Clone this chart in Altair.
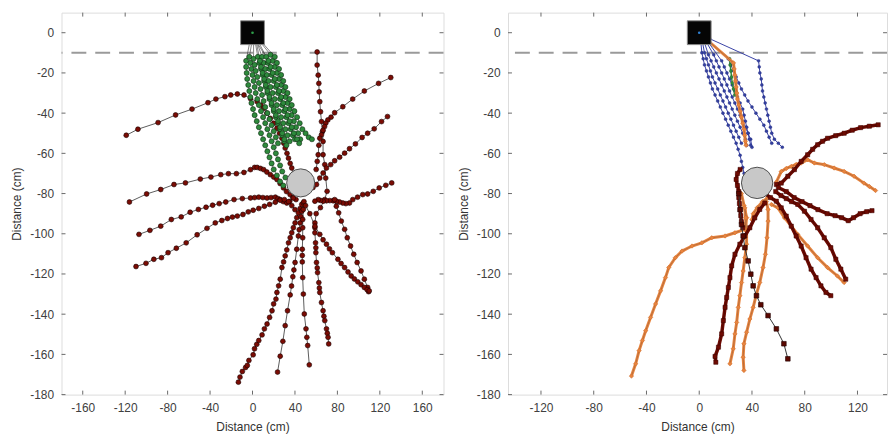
import altair as alt
import pandas as pd

# ---------------- data (cm) ----------------
Y_TICKS = [0, -20, -40, -60, -80, -100, -120, -140, -160, -180]
X_TICKS_LEFT = [-160, -120, -80, -40, 0, 40, 80, 120, 160]
X_TICKS_RIGHT = [-120, -80, -40, 0, 40, 80, 120]
X_DOMAIN_LEFT = [-180, 180]
X_DOMAIN_RIGHT = [-145, 142.4]
Y_DOMAIN = [-180, 10]
BARRIER_Y = [-10]
OBJECT_LEFT = [(45.4, -74.7)]
OBJECT_RIGHT = [(43.9, -74.7)]
SOURCE = [(0, 0)]

# left panel: dark red tracks
L1 = [(-119,-51),(-108,-48),(-89,-44.7),(-72.5,-40.9),(-57,-38),(-42,-34.8),(-34.5,-33),(-26,-31.8),(-20.5,-31),(-14.3,-30.5),(-8,-31),(-2,-32.7),(4.4,-34.3),(8,-36),(10.5,-37.6),(13.5,-40),(16.8,-42.6),(20,-45),(23,-47.5),(25.5,-50),(27.7,-52.5),(29.5,-55),(30.8,-57.4),(32.5,-60),(33.9,-62.4),(35.5,-65),(37,-67.3),(39,-70),(41,-73)]
L2 = [(-116,-84.2),(-99.8,-80.2),(-86.5,-78),(-74,-75.5),(-63.2,-74.7),(-49.2,-72.8),(-39.2,-71.8),(-29.9,-70.6),(-22.7,-70.1),(-15.2,-70.1),(-8.1,-69.5),(-1.9,-68.1),(2,-67),(4.4,-67),(7.5,-67.5),(10.5,-68.1),(13.5,-69.3),(16.8,-70.6),(20,-71.8),(23,-73),(26,-75),(29.2,-77.2),(32,-79),(35.4,-80.5),(38,-82),(41,-83)]
L3 = [(-107,-100.3),(-96.7,-98.3),(-86.5,-96.2),(-76.5,-92.9),(-67.2,-91.6),(-58.8,-89.3),(-51,-87.9),(-43.8,-86.8),(-37.6,-85.8),(-31.4,-85),(-25.2,-84.2),(-17.4,-83),(-9.6,-82.5),(-1.9,-82.2),(2,-82),(5.9,-81.8),(9.8,-82),(13.7,-82.2),(17.5,-82),(21.5,-81.8),(24,-82.5),(26.1,-83),(29,-84),(32.3,-84.7),(35,-84),(38.5,-82.2)]
L4 = [(-109.8,-116.3),(-100.4,-114.7),(-93,-112.7),(-85.8,-111.9),(-79.6,-109.4),(-71.8,-107.2),(-62.5,-104.5),(-52.2,-100.5),(-42.9,-97.3),(-35.1,-94.6),(-28.9,-93.4),(-23.6,-92.4),(-18.9,-91.7),(-14.3,-91.2),(-9,-90.4),(-4,-89.1),(0.6,-88.3),(5.9,-87.4),(11.2,-86.3),(16.1,-85.4),(21.5,-84.3),(26.1,-83.3),(30,-83),(34,-84),(37,-86),(40,-88)]
L5 = [(-13.3,-173.8),(-11.8,-171.3),(-9.6,-168.5),(-6.5,-166.5),(-4.9,-165.5),(-3.4,-163),(0.6,-160.2),(1.9,-157.2),(4,-155),(5.9,-153.1),(9,-150.3),(11.2,-147.3),(13.7,-144.9),(16.1,-141.6),(18.4,-138.3),(19.9,-134.9),(22.1,-132.5),(23,-129.2),(24.6,-125.9),(26.1,-122.6),(27.7,-116.8),(29.3,-114),(30.8,-111),(32.3,-108),(33.9,-104.5),(35.5,-102),(37,-99.5),(38.5,-97),(40.1,-94.6),(41.7,-92),(43.2,-89.6),(44.8,-87.5),(46.4,-85.4)]
L6 = [(23.6,-168.8),(26.1,-160.9),(28.6,-153.5),(30.8,-145.7),(33,-138.3),(35.5,-130.4),(36.8,-126),(38,-121.4),(39,-118),(40.1,-114.3),(41.7,-107.7),(43.2,-101.1),(44,-98),(44.8,-94.6),(45.6,-91.5),(46.4,-88.8),(47.9,-84.6)]
L7 = [(53.5,-165.2),(52,-155.6),(51.2,-151.5),(50.4,-147.3),(48.8,-139.9),(47.9,-130),(47.3,-121.8),(46.9,-114),(46.9,-110.8),(46.9,-107.7),(47.3,-102),(47.3,-97),(47.3,-92.9),(47.9,-87.9),(48.5,-84)]
L8 = [(60.9,-9.6),(60.9,-16.1),(61.9,-21.1),(62.5,-25.2),(62.8,-29.4),(63.4,-34.3),(64.1,-39.3),(65,-44.2),(65.9,-49.2),(66.5,-54.1),(66.5,-60.7),(68.1,-65.6),(69,-72.3),(70.3,-78.9),(68,-83),(64,-87),(60,-90),(58.8,-94.6),(58.8,-97),(58.8,-99.5),(59.4,-104.5),(59.7,-107),(59.7,-109.4),(60.3,-114.3),(61,-117),(61.3,-119.3),(62.5,-124.3),(63,-127),(63.4,-129.2),(65,-134.2),(66.5,-138.3),(67.3,-141),(68.1,-143.2),(69.7,-147.3),(70.5,-149.5),(71.2,-151.5),(71.8,-154.8)]
L9 = [(130.3,-22.3),(118.8,-25.2),(105.4,-29),(94.4,-33),(85.1,-36.8),(77.4,-39.8),(74,-42),(71,-43.4),(69,-45),(67.9,-46.7),(66.5,-48.5),(65,-50.8),(63.4,-52.5),(62.5,-56),(61.9,-60.7),(61,-64),(60,-68)]
L10 = [(127.2,-41.7),(121.6,-44.2),(114.7,-47.8),(108.5,-50),(103.3,-52.1),(97,-55.3),(91.4,-57.7),(86.8,-59.9),(82.1,-61.9),(77.4,-63.7),(73.7,-65.6),(69.7,-67.3),(66.5,-69.8),(63.4,-72.3),(60.3,-75.5),(57,-77)]
L11 = [(131.2,-74.7),(125.6,-75.9),(119.4,-77.2),(113.8,-78.9),(108.5,-80.2),(103.9,-80.5),(99,-81.8),(94.5,-83),(91.4,-84.7),(88,-85),(85.1,-84.7),(82,-84.2),(79,-83.8),(76,-83.6),(72.8,-83.5),(69.7,-83.6),(66.6,-83.8),(64,-83.4),(61.9,-83),(58.8,-83.8)]
L12 = [(77.4,-83),(79,-86.3),(81.2,-89.6),(83.7,-93.7),(86.8,-97.8),(89.3,-102),(92.4,-106.1),(95.4,-110.2),(98.6,-114.3),(102.3,-118.5),(105.4,-122.6),(108.5,-126.7),(109.4,-128.8)]
L13 = [(50,-86),(54,-90),(58.8,-96.2),(63.4,-100.3),(66.5,-103),(69.7,-105.2),(72.5,-107.5),(75.3,-109.4),(80.5,-112.7),(83.5,-114.8),(86.8,-116.8),(90,-119),(93,-121),(96,-122.5),(99.2,-123.9),(102.3,-125.3),(105.4,-126.7),(108,-127.8),(110,-128.4)]

# left panel: green tracks (start inside the source box)
G1 = [(-2,-3),(-6,-14),(-6,-17),(-5.5,-20),(-5,-23),(-4,-26),(-3,-29),(-2,-32),(-1,-35),(0.5,-38),(2,-41),(4,-44),(6,-47),(8,-50),(10,-53),(12,-56),(14,-59),(16,-62),(18,-65),(20,-68),(23,-71),(26,-74),(29,-76)]
G2 = [(0,-3),(-3,-12),(-2,-15),(-1,-18),(0,-21),(1,-24),(2,-27),(3,-30),(4.5,-33),(6,-36),(8,-39),(10,-42),(12,-45),(14,-48),(16,-51),(18,-54),(20,-57),(22,-60),(24,-63),(26,-66),(28,-69),(31,-72)]
G3 = [(1,-3),(1,-13),(2,-16),(3,-19),(4.5,-22),(6,-25),(7.5,-28),(9,-31),(10.5,-34),(12,-37),(14,-40),(16,-43),(18,-46),(20,-49),(22,-52),(24,-55)]
G4 = [(2,-3),(5,-12),(6.5,-15),(8,-18),(9.5,-21),(11,-24),(12.5,-27),(14,-30),(16,-33),(18,-36),(20,-39),(22,-42),(24,-45),(26,-48),(28,-51),(30,-54)]
G5 = [(3,-3),(9,-12),(10.5,-15),(12,-18),(13.5,-21),(15,-24),(17,-27),(19,-30),(21,-33),(23,-36),(25,-39),(27,-42),(29,-45),(31,-48),(33,-51),(35,-54)]
G6 = [(4,-3),(13,-12),(14.5,-15),(16,-18),(18,-21),(20,-24),(22,-27),(24,-30),(26,-33),(28,-36),(30,-39),(32,-42),(34,-45),(36,-48),(38,-51),(40,-53)]
G7 = [(5,-3),(17,-11),(19,-14),(21,-17),(23,-20),(25,-23),(27,-26),(29,-29),(31,-32),(33,-35),(35,-38),(37,-41),(39,-44),(41,-47),(43,-50),(45,-53)]
G8 = [(6,-3),(21,-12),(23,-15),(25,-18),(27,-21),(29,-24),(31,-27),(33,-30),(35,-33),(37,-36),(39.5,-39),(42,-42),(44.5,-45),(47,-48),(50,-50),(53,-52),(56,-53)]
G9 = [(3,-3),(7,-14),(8,-17),(9.5,-20),(11,-23),(12.5,-26),(14,-29),(16,-32),(18,-35),(20,-38),(22,-41),(24,-44),(26,-47),(28,-50),(30,-53),(32,-56)]
G10 = [(2,-3),(15,-14),(17,-17),(19,-20),(21,-23),(23,-26),(25,-29),(27,-32),(29,-35),(31,-38),(33,-41),(35,-44),(37,-47),(39,-50),(42,-53),(44,-55)]

# right panel: blue tracks
B1 = [(1,-3),(2,-10),(3,-13),(4,-16),(5.5,-19),(7,-22),(8.5,-25),(10,-28),(12,-31),(14,-34),(16,-37),(18,-40),(20,-43),(22,-46),(24,-49),(26,-52),(28,-55),(29.5,-58),(31,-61),(32,-64),(33,-67),(34,-70)]
B2 = [(2,-3),(4,-10),(5.5,-13),(7,-16),(8.5,-19),(10,-22),(12,-25),(14,-28),(16,-31),(18,-34),(20,-37),(22,-40),(24,-43),(26,-46),(28,-49),(30,-52),(32,-55)]
B3 = [(3,-3),(7,-11),(9,-14),(11,-17),(13,-20),(15,-23),(17,-26),(19,-29),(21,-32),(23,-35),(25,-38),(27,-41),(29,-44),(31,-47),(33,-50),(35,-53),(36,-56)]
B4 = [(4,-3),(11,-11),(13,-14),(15,-17),(17,-20),(19,-23),(21,-26),(23,-29),(25,-32),(27,-35),(29,-38),(31,-41),(33,-44),(35,-47),(37,-50),(39,-53),(40,-57)]
B5 = [(5,-3),(17,-14),(19,-17),(21,-20),(23,-23),(25,-26),(27,-29),(29,-32),(31,-35),(33,-38),(34,-41),(35,-44),(36,-47),(37,-50),(38,-53),(39,-56)]
B6 = [(8,-3),(45,-14),(45.5,-17),(46,-20),(47,-23),(47.5,-26),(48,-29),(49,-32),(50,-35),(51,-38),(52,-41),(53,-44),(54,-47),(55,-50),(57,-53),(60,-55),(63,-57)]
B7 = [(6,-3),(22,-13),(24,-16),(26,-19),(28,-22),(30,-25),(32,-28),(34.5,-31),(37,-34),(40,-37),(43,-40),(46,-43),(49,-46),(51,-49),(53,-52),(55,-55)]
GR1 = [(4,-3),(23,-13),(23.5,-16),(24,-19),(24.5,-22),(25,-25),(26,-28),(27,-31)]

# right panel: orange tracks
O0 = [(5,-3),(26,-15),(26.5,-18),(27,-21),(27.5,-24),(28,-27),(28.5,-30),(29,-33),(30,-36),(31,-39),(32,-42),(33,-45),(34,-48),(34.5,-51),(35,-54),(35.5,-56)]
O1 = [(58.5,-74.3),(62.2,-69),(66,-67.5),(69.8,-66.5),(73.5,-65.5),(77.3,-64.8),(82.2,-63.2),(87.3,-64.8),(94.8,-65.6),(102.3,-67.3),(109.9,-69),(117.4,-71.4),(124.9,-74.8),(129,-76.5),(133.7,-78.5)]
O2 = [(32,-80),(34,-86),(36,-92),(34.6,-97.8),(27.1,-99.5),(19.6,-101.1),(9.5,-102),(2,-104.5),(-5.5,-106.1),(-13,-108.6),(-18.1,-111.9),(-23.1,-116.8),(-25.6,-121.8),(-29.3,-128.4),(-33.1,-134.9),(-36.9,-141.6),(-40.6,-148.2),(-43.1,-153.1),(-45.6,-158.1),(-48.2,-164.7),(-51.4,-170.8)]
O3 = [(34.6,-87.1),(35.1,-92.1),(35.9,-98.7),(35.9,-105.2),(34.6,-111.9),(33.3,-118.5),(32.1,-124.3),(30.8,-130.8),(29.6,-136.6),(28.4,-144.1),(27.1,-149.8),(25.8,-157.2),(23.3,-164.7)]
O4 = [(50.9,-84),(52.2,-87.9),(52.2,-93.7),(51.4,-102),(50.2,-110.2),(48.4,-116.8),(45.9,-124.3),(43.4,-130),(40.9,-136.6),(38.4,-142.4),(35.9,-149),(33.9,-154.7),(33.3,-161.4),(33.9,-168)]
O5 = [(54.7,-85.4),(59.7,-87.1),(64.7,-92.1),(69.8,-96.2),(74.7,-100.3),(82.2,-106.1),(89.8,-111.9),(97.3,-116.8),(104.8,-121),(109.9,-124.3)]
O6 = [(52,-82),(48,-84),(44,-87),(41,-90),(40,-93)]

# right panel: dark red tracks
R1 = [(58.5,-75.5),(62.2,-74.8),(67.2,-71.4),(72.2,-68.1),(77.3,-64),(82.2,-60.7),(86,-58),(89.8,-55.7),(93.5,-54),(97.3,-52.5),(103.5,-51.2),(109.9,-50),(116,-48.5),(122.4,-47.2),(129,-46.5),(135.7,-45.8)]
R2 = [(60,-77),(66,-79),(72,-82),(78,-84),(84,-86),(90,-88),(97,-90),(103,-91),(108,-92),(113,-93.5),(117,-92),(122,-90),(127,-89),(131,-88.5)]
R3 = [(58,-79),(62,-81),(66,-82.5),(70,-84),(74.7,-85.4),(79.8,-88.8),(84.8,-92.9),(89.8,-97),(94.8,-102),(99.8,-106.9),(103.6,-112.7),(107.4,-117.6),(111.1,-122.6)]
R4 = [(50,-80),(54,-82),(58.5,-83.8),(62.2,-87.1),(66,-91.2),(69.8,-96.2),(73.5,-101.1),(77.3,-106.1),(81,-111.9),(84.8,-117.6),(88.6,-121.8),(92.3,-125.9),(96.1,-129.2),(99.8,-130.8)]
R5 = [(49.7,-84.7),(45.9,-87.9),(42.1,-92.1),(38.4,-97),(34.6,-101.1),(30.8,-105.2),(27.1,-110.2),(24.6,-116),(23.3,-121.8),(22.1,-126.7),(20.8,-131.7),(19.6,-136.6),(18.3,-143.2),(17,-149.8),(14.6,-156.4),(12,-161),(12.6,-163.9)]
R6 = [(31,-68),(29,-70),(28,-73),(29,-76),(30,-79),(30,-82),(30.5,-85),(31,-88),(31.5,-91),(32,-94),(33,-97)]
R7 = [(30,-80),(31,-88),(32.1,-95.4),(33.3,-101.1),(34.6,-106.9),(37.1,-113.5),(39.1,-120.1),(40.9,-125.9),(43.4,-130.8),(46.7,-135.3),(52.2,-140.7),(58.5,-147.3),(64.2,-154.7),(67.2,-162.2)]

LEFT_RED = {"L1": L1, "L2": L2, "L3": L3, "L4": L4, "L5": L5, "L6": L6, "L7": L7,
            "L8": L8, "L9": L9, "L10": L10, "L11": L11, "L12": L12, "L13": L13}
LEFT_GREEN = {"G1": G1, "G2": G2, "G3": G3, "G4": G4, "G5": G5, "G6": G6, "G7": G7,
              "G8": G8, "G9": G9, "G10": G10}
RIGHT_BLUE = {"B1": B1, "B2": B2, "B3": B3, "B4": B4, "B5": B5, "B6": B6, "B7": B7}
RIGHT_GREEN = {"GR1": GR1}
RIGHT_ORANGE = {"O0": O0, "O1": O1, "O2": O2, "O3": O3, "O4": O4, "O5": O5, "O6": O6}
RIGHT_RED = {"R1": R1, "R2": R2, "R3": R3, "R4": R4, "R5": R5, "R6": R6}
RIGHT_DARK = {"R7": R7}

FONT = "Liberation Sans"


def tracks_df(tracks):
    rows = []
    for name, pts in tracks.items():
        for i, (x, y) in enumerate(pts):
            rows.append({"track": name, "i": i, "x": x, "y": y})
    return pd.DataFrame(rows)


def pts_df(pts):
    return pd.DataFrame({"x": [p[0] for p in pts], "y": [p[1] for p in pts]})


def panel(xdomain, xticks, width, groups, obj, obj_size, dot_color):
    xs = alt.Scale(domain=xdomain, nice=False, zero=False)
    ys = alt.Scale(domain=Y_DOMAIN, nice=False, zero=False)
    common = dict(tickSize=0, labelPadding=8, domain=False, grid=False,
                  labelFont=FONT, labelFontSize=12, labelColor="#404040",
                  labelExpr="toString(datum.value)",
                  titleFont=FONT, titleFontSize=12, titleFontWeight="normal",
                  titleColor="#333333")
    xaxis = alt.Axis(values=xticks, titlePadding=3, minExtent=24, maxExtent=24, **common)
    yaxis = alt.Axis(values=Y_TICKS, titlePadding=6, minExtent=32, maxExtent=32, **common)
    X = alt.X("x:Q", scale=xs, axis=xaxis, title="Distance (cm)")
    Y = alt.Y("y:Q", scale=ys, axis=yaxis, title="Distance (cm)")

    layers = []
    layers.append(alt.Chart(pd.DataFrame({"y": BARRIER_Y})).mark_rule(
        color="#9a9a9a", strokeWidth=2, strokeDash=[15, 9]).encode(y=Y))

    for g in groups:
        df = tracks_df(g["tracks"])
        base = alt.Chart(df)
        if g.get("band"):
            layers.append(base.mark_line(color=g["band"], strokeWidth=g["bandw"], opacity=1).encode(
                x=X, y=Y, detail="track:N", order="i:Q"))
        layers.append(base.mark_line(color=g["line"], strokeWidth=g["lw"]).encode(
            x=X, y=Y, detail="track:N", order="i:Q"))
        layers.append(base.mark_point(shape=g["shape"], filled=True, fill=g["fill"], stroke=g["stroke"],
                                      strokeWidth=g["sw"], size=g["size"], opacity=1).encode(x=X, y=Y))

    layers.append(alt.Chart(pts_df(obj)).mark_circle(size=obj_size, color="#c8c8c8", stroke="#505050",
                                                    strokeWidth=1, opacity=1).encode(x=X, y=Y))
    layers.append(alt.Chart(pts_df(SOURCE)).mark_square(size=576, color="#050505", stroke="#8a8a8a",
                                                        strokeWidth=1, opacity=1).encode(x=X, y=Y))
    layers.append(alt.Chart(pts_df(SOURCE)).mark_circle(size=7, color=dot_color, opacity=1).encode(x=X, y=Y))

    # inward ticks on all four sides
    xt = pd.DataFrame({"x": xticks})
    yt = pd.DataFrame({"y": Y_TICKS})
    tick_col = "#6a6a6a"
    layers.append(alt.Chart(xt).mark_rule(color=tick_col, strokeWidth=1).encode(
        x=X, y=alt.value(0), y2=alt.value(4)))
    layers.append(alt.Chart(xt).mark_rule(color=tick_col, strokeWidth=1).encode(
        x=X, y=alt.value(385), y2=alt.value(381)))
    layers.append(alt.Chart(yt).mark_rule(color=tick_col, strokeWidth=1).encode(
        y=Y, x=alt.value(0), x2=alt.value(4)))
    layers.append(alt.Chart(yt).mark_rule(color=tick_col, strokeWidth=1).encode(
        y=Y, x=alt.value(width), x2=alt.value(width - 4)))

    return alt.layer(*layers).properties(width=width, height=385)


left_groups = [
    {"tracks": LEFT_RED, "line": "#333333", "lw": 0.8, "shape": "circle", "fill": "#7a0c04",
     "stroke": "#1a0000", "sw": 0.6, "size": 24},
    {"tracks": LEFT_GREEN, "line": "#333333", "lw": 0.6, "shape": "circle", "fill": "#2e8a3c",
     "stroke": "#0f2a12", "sw": 0.6, "size": 26},
]
right_groups = [
    {"tracks": RIGHT_BLUE, "line": "#3a44a6", "lw": 1.0, "shape": "circle", "fill": "#3340a0",
     "stroke": "#232c80", "sw": 0.4, "size": 9},
    {"tracks": RIGHT_GREEN, "line": "#2e8a3c", "lw": 1.5, "shape": "circle", "fill": "#2e8a3c",
     "stroke": "#1f5a28", "sw": 0.4, "size": 10},
    {"tracks": RIGHT_ORANGE, "band": "#e8843e", "bandw": 3, "line": "#8a5a3a", "lw": 0.5,
     "shape": "diamond", "fill": "#e8843e", "stroke": "#c86a2a", "sw": 0.5, "size": 20},
    {"tracks": RIGHT_RED, "band": "#6e0a02", "bandw": 3.5, "line": "#3a0500", "lw": 0.5,
     "shape": "square", "fill": "#6e0a02", "stroke": "#3a0500", "sw": 0.5, "size": 18},
    {"tracks": RIGHT_DARK, "line": "#333333", "lw": 1.0, "shape": "square", "fill": "#5a0800",
     "stroke": "#200000", "sw": 0.6, "size": 22},
]

left = panel(X_DOMAIN_LEFT, X_TICKS_LEFT, 385, left_groups, OBJECT_LEFT, 800, "#2ea04a")
right = panel(X_DOMAIN_RIGHT, X_TICKS_RIGHT, 382, right_groups, OBJECT_RIGHT, 1000, "#2f7fd0")

chart = alt.hconcat(left, right, spacing=11).properties(
    padding={"left": 10, "top": 10, "right": 0, "bottom": 0}
).configure_view(stroke="#8a8a8a", strokeWidth=1.5).configure(background="white")

chart.save("out.html", embed_options={"renderer": "svg", "actions": False})
